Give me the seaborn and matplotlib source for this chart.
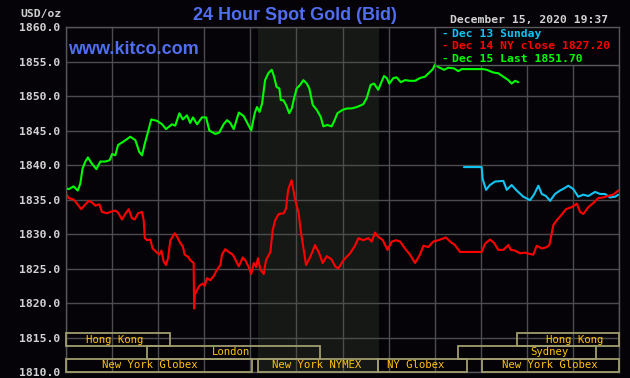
import matplotlib
matplotlib.use("Agg")
import matplotlib.pyplot as plt
import seaborn as sns
import pandas as pd
from matplotlib.patches import Rectangle
from matplotlib.ticker import FormatStrFormatter

# ---------------- data (hours since start of 24h window, USD/oz) ----------------
dec15_hours = [0.00, 0.12, 0.33, 0.51, 0.62, 0.72, 0.84, 0.95, 1.10, 1.32, 1.49, 1.71, 1.90, 2.00,
               2.14, 2.26, 2.50, 2.79, 3.01, 3.18, 3.30, 3.42, 3.56, 3.70, 3.95, 4.17, 4.34, 4.60,
               4.74, 4.92, 5.07, 5.25, 5.39, 5.51, 5.69, 5.90, 6.08, 6.22, 6.48, 6.65, 6.84, 6.99,
               7.13, 7.28, 7.50, 7.71, 7.93, 8.04, 8.19, 8.29, 8.40, 8.51, 8.64, 8.78, 8.93, 9.03,
               9.14, 9.26, 9.32, 9.43, 9.55, 9.69, 9.80, 9.90, 10.01, 10.16, 10.30, 10.45, 10.56,
               10.71, 10.88, 11.05, 11.17, 11.34, 11.53, 11.63, 11.78, 12.01, 12.21, 12.40, 12.62,
               12.90, 13.05, 13.22, 13.37, 13.55, 13.70, 13.80, 13.92, 14.03, 14.21, 14.35, 14.53,
               14.71, 14.93, 15.15, 15.36, 15.58, 15.80, 15.92, 16.02, 16.16, 16.41, 16.59, 16.84,
               17.03, 17.17, 18.11, 18.26, 18.55, 18.76, 18.98, 19.20, 19.34, 19.49, 19.63]
dec15_price = [1836.6, 1836.5, 1836.9, 1836.3, 1837.3, 1839.5, 1840.5, 1841.1, 1840.3, 1839.4,
               1840.5, 1840.5, 1840.7, 1841.6, 1841.4, 1842.9, 1843.4, 1844.1, 1843.6, 1841.9,
               1841.4, 1843.1, 1844.8, 1846.6, 1846.4, 1845.9, 1845.2, 1845.9, 1845.7, 1847.5,
               1846.6, 1847.2, 1846.1, 1846.9, 1845.9, 1846.9, 1846.9, 1845.0, 1844.5, 1844.7,
               1845.9, 1846.5, 1846.1, 1845.2, 1847.6, 1847.1, 1845.7, 1845.0, 1847.5, 1848.4,
               1847.7, 1848.9, 1852.3, 1853.3, 1853.8, 1852.8, 1851.3, 1851.1, 1849.4, 1849.4,
               1848.7, 1847.5, 1848.2, 1849.7, 1851.1, 1851.6, 1852.3, 1851.8, 1851.1, 1848.7,
               1848.0, 1847.0, 1845.6, 1845.8, 1845.6, 1846.3, 1847.5, 1848.0, 1848.2, 1848.2,
               1848.4, 1848.8, 1849.7, 1851.6, 1851.8, 1850.9, 1852.1, 1852.9, 1852.6, 1851.8,
               1852.6, 1852.7, 1852.0, 1852.3, 1852.2, 1852.2, 1852.6, 1852.8, 1853.5, 1853.9,
               1854.6, 1854.2, 1853.8, 1854.1, 1854.0, 1853.6, 1853.9, 1853.9, 1853.8, 1853.4,
               1853.3, 1852.8, 1852.3, 1851.8, 1852.2, 1852.0]

dec14_hours = [0.00, 0.12, 0.33, 0.48, 0.66, 0.84, 0.99, 1.16, 1.27, 1.45, 1.56, 1.78, 1.92, 2.14,
               2.26, 2.43, 2.57, 2.72, 2.86, 2.98, 3.13, 3.30, 3.37, 3.42, 3.52, 3.66, 3.76, 3.95,
               4.05, 4.14, 4.24, 4.34, 4.43, 4.53, 4.72, 4.82, 4.96, 5.07, 5.15, 5.30, 5.39, 5.54,
               5.56, 5.59, 5.69, 5.79, 5.93, 6.02, 6.12, 6.26, 6.41, 6.55, 6.70, 6.77, 6.91, 7.06,
               7.24, 7.35, 7.50, 7.67, 7.78, 7.93, 8.04, 8.15, 8.25, 8.33, 8.43, 8.58, 8.68, 8.87,
               8.97, 9.08, 9.23, 9.45, 9.55, 9.64, 9.79, 9.95, 10.10, 10.18, 10.42, 10.59, 10.81,
               10.99, 11.14, 11.32, 11.53, 11.68, 11.82, 12.04, 12.33, 12.54, 12.69, 12.90, 13.12,
               13.27, 13.41, 13.55, 13.75, 13.95, 14.14, 14.32, 14.50, 14.71, 14.93, 15.15, 15.36,
               15.51, 15.72, 15.94, 16.16, 16.49, 16.67, 16.88, 17.03, 17.10, 18.04, 18.19, 18.40,
               18.58, 18.76, 18.98, 19.20, 19.30, 19.49, 19.70, 19.92, 20.14, 20.28, 20.43, 20.65,
               20.86, 20.98, 21.15, 21.30, 21.51, 21.70, 21.95, 22.17, 22.31, 22.45, 22.67, 22.89,
               23.10, 23.32, 23.51, 23.75, 23.97]
dec14_price = [1835.8, 1835.2, 1835.0, 1834.4, 1833.6, 1834.3, 1834.8, 1834.5, 1834.1, 1834.3,
               1833.2, 1833.0, 1833.2, 1833.4, 1833.1, 1832.1, 1832.9, 1833.6, 1832.3, 1832.1,
               1833.0, 1833.2, 1832.0, 1829.4, 1829.1, 1829.2, 1827.9, 1827.3, 1827.0, 1827.6,
               1826.0, 1825.5, 1826.5, 1829.1, 1830.1, 1829.6, 1828.7, 1828.2, 1827.0, 1826.7,
               1826.2, 1825.8, 1819.2, 1821.2, 1821.9, 1822.5, 1822.8, 1822.5, 1823.6, 1823.3,
               1823.9, 1824.8, 1825.5, 1827.0, 1827.8, 1827.4, 1827.0, 1826.3, 1825.3, 1826.6,
               1826.2, 1825.2, 1824.2, 1825.8, 1825.2, 1826.5, 1824.9, 1824.2, 1826.2, 1827.4,
               1830.6, 1832.0, 1832.9, 1833.0, 1833.7, 1836.4, 1837.8, 1834.9, 1833.0, 1830.6,
               1825.5, 1826.6, 1828.4, 1827.2, 1825.8, 1826.8, 1826.3, 1825.3, 1825.0, 1826.2,
               1827.2, 1828.3, 1829.4, 1829.1, 1829.4, 1828.9, 1830.2, 1829.6, 1829.1, 1827.7,
               1828.9, 1829.1, 1828.9, 1827.9, 1827.0, 1825.8, 1827.0, 1828.3, 1828.1, 1828.9,
               1829.1, 1829.5, 1828.9, 1828.4, 1827.7, 1827.4, 1827.4, 1828.6, 1829.2, 1828.7,
               1827.7, 1827.7, 1828.4, 1827.7, 1827.6, 1827.2, 1827.3, 1827.1, 1827.0, 1828.3,
               1827.9, 1828.1, 1828.4, 1831.3, 1832.0, 1832.8, 1833.6, 1833.9, 1834.4, 1833.2,
               1832.9, 1833.9, 1834.5, 1835.2, 1835.3, 1835.5, 1835.7, 1836.3]

dec13_hours = [17.27, 18.04, 18.08, 18.23, 18.40, 18.62, 18.98, 19.13, 19.34, 19.56, 19.85, 20.14,
               20.31, 20.50, 20.65, 20.83, 21.01, 21.22, 21.44, 21.61, 21.80, 22.02, 22.23, 22.45,
               22.67, 22.96, 23.18, 23.39, 23.61, 23.83, 23.97]
dec13_price = [1839.7, 1839.7, 1838.0, 1836.4, 1837.1, 1837.6, 1837.7, 1836.4, 1837.1, 1836.3,
               1835.4, 1834.9, 1835.7, 1837.0, 1835.8, 1835.5, 1834.8, 1835.8, 1836.3, 1836.6,
               1837.0, 1836.5, 1835.4, 1835.7, 1835.5, 1836.1, 1835.8, 1835.8, 1835.3, 1835.4,
               1835.7]

y_ticks = [1810, 1815, 1820, 1825, 1830, 1835, 1840, 1845, 1850, 1855, 1860]
legend_labels = ["Dec 13 Sunday", "Dec 14 NY close 1827.20", "Dec 15 Last 1851.70"]

# sessions: label, row (0 top), start hour, end hour, label centre hour
session_labels = ["Hong Kong", "Hong Kong", "London", "Sydney",
                  "New York Globex", "New York NYMEX", "NY Globex", "New York Globex"]
session_rows = [0, 0, 1, 1, 2, 2, 2, 2]
session_start = [0.0, 19.57, 3.53, 17.03, 0.0, 8.35, 13.56, 18.06]
session_end = [4.51, 24.0, 11.02, 22.99, 8.09, 13.56, 17.39, 24.0]
session_text_x = [2.13, 22.07, 7.16, 20.99, 3.65, 10.89, 15.19, 20.99]
row_edges = [1815.6, 1813.8, 1811.9, 1810.0]

# ---------------- style ----------------
sns.set_theme(style="dark")
plt.rcParams['font.family'] = ['DejaVu Sans']

BG = "#050308"
GRID = "#4c4c4c"
C13 = "#12c4f2"
C14 = "#ff0000"
C15 = "#00ff00"
BLUE = "#4f6ef2"
MONO = "DejaVu Sans Mono"

fig = plt.figure(figsize=(6.3, 3.78), dpi=100, facecolor=BG)
ax = fig.add_axes([66 / 630, 6 / 378, 553 / 630, 345 / 378])
ax.set_facecolor(BG)

# NY session shading
ax.axvspan(8.35, 13.59, color="#151815", zorder=0.2, lw=0)

df13 = pd.DataFrame({"h": dec13_hours, "p": dec13_price})
df14 = pd.DataFrame({"h": dec14_hours, "p": dec14_price})
df15 = pd.DataFrame({"h": dec15_hours, "p": dec15_price})
sns.lineplot(data=df13, x="h", y="p", ax=ax, color=C13, lw=1.5, estimator=None, sort=False, zorder=2)
sns.lineplot(data=df15, x="h", y="p", ax=ax, color=C15, lw=1.5, estimator=None, sort=False, zorder=2.2)
sns.lineplot(data=df14, x="h", y="p", ax=ax, color=C14, lw=1.5, estimator=None, sort=False, zorder=2.1)

ax.set_xlim(0, 24)
ax.set_ylim(1810, 1860)
ax.set_xticks(range(0, 25, 2))
ax.set_xticklabels([])
ax.set_yticks(y_ticks)
ax.yaxis.set_major_formatter(FormatStrFormatter("%.1f"))
ax.set_xlabel("")
ax.set_ylabel("")
ax.set_axisbelow(True)
ax.grid(True, color=GRID, lw=1.0)
ax.tick_params(axis="both", length=0, pad=4)
for lab in ax.get_yticklabels():
    lab.set_fontfamily(MONO)
    lab.set_fontweight("bold")
    lab.set_fontsize(8.2)
    lab.set_color("#d2d2d2")
for s in ax.spines.values():
    s.set_visible(True)
    s.set_color("#555555")
    s.set_linewidth(1.0)

# legend box
ax.add_patch(Rectangle((16.02, 1854.5), 24 - 16.02, 5.5, facecolor=BG, edgecolor="#5a5a5a",
                       lw=1.0, zorder=5))
for lab, col, yy in zip(legend_labels, [C13, C14, C15], [1859.0, 1857.25, 1855.35]):
    ax.text(16.3, yy, "-", color=col, fontfamily=MONO, fontweight="bold", fontsize=8.2,
            va="center", ha="left", zorder=6)
    ax.text(16.75, yy, lab, color=col, fontfamily=MONO, fontweight="bold", fontsize=8.2,
            va="center", ha="left", zorder=6)

# trading session boxes
for lab, r, x0, x1, tx in zip(session_labels, session_rows, session_start, session_end, session_text_x):
    y1, y0 = row_edges[r], row_edges[r + 1]
    ax.add_patch(Rectangle((x0, y0), x1 - x0, y1 - y0, fill=False, edgecolor="#a19d6e",
                           lw=1.3, zorder=4, clip_on=False))
    ax.text(tx, (y0 + y1) / 2, lab, color="#ffc20e", fontfamily=MONO, fontsize=7.7,
            ha="center", va="center", zorder=6)

# header texts
fig.text(294.5 / 630, 1 - 15 / 378, "24 Hour Spot Gold (Bid)", color=BLUE,
         fontfamily="Liberation Sans", fontsize=13, fontweight="bold", ha="center", va="center")
fig.text(68 / 630, 1 - 49 / 378, "www.kitco.com", color=BLUE,
         fontfamily="Liberation Sans", fontsize=13, fontweight="bold", ha="left", va="center")
fig.text(62 / 630, 1 - 13.5 / 378, "USD/oz", color="#cfcfcf", fontfamily=MONO,
         fontweight="bold", fontsize=8.2, ha="right", va="center")
fig.text(608 / 630, 1 - 20 / 378, "December 15, 2020 19:37", color="#d2d2d2", fontfamily=MONO,
         fontweight="bold", fontsize=8.2, ha="right", va="center")

fig.savefig("out.png", dpi=100, facecolor=BG)
